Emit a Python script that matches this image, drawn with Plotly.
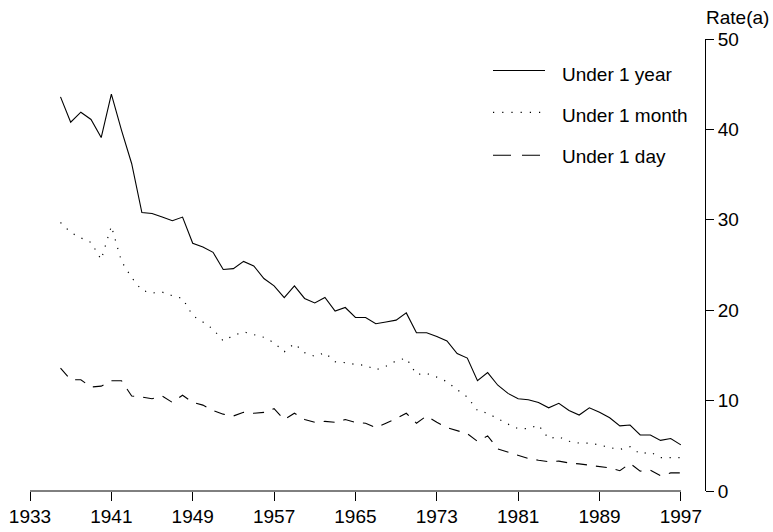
import plotly.graph_objects as go

years = list(range(1936, 1998))

under_1_year = [43.6, 40.8, 41.9, 41.1, 39.1, 43.9, 39.9, 36.2, 30.8, 30.7,
                30.3, 29.9, 30.3, 27.4, 27.0, 26.4, 24.5, 24.6, 25.4, 24.9,
                23.5, 22.7, 21.4, 22.7, 21.3, 20.8, 21.4, 19.9, 20.3, 19.2,
                19.2, 18.5, 18.7, 18.9, 19.7, 17.5, 17.5, 17.1, 16.6, 15.2,
                14.7, 12.2, 13.1, 11.7, 10.8, 10.2, 10.1, 9.8, 9.2, 9.7,
                8.9, 8.4, 9.2, 8.7, 8.1, 7.2, 7.3, 6.2, 6.2, 5.6,
                5.8, 5.1]

under_1_month = [29.7, 28.6, 28.0, 27.5, 25.6, 29.3, 25.4, 23.6, 22.2, 21.9,
                 22.0, 21.6, 21.3, 19.4, 18.7, 17.9, 16.6, 17.2, 17.6, 17.3,
                 17.0, 16.4, 15.4, 16.3, 15.3, 14.9, 15.3, 14.3, 14.2, 14.0,
                 13.9, 13.4, 13.8, 14.4, 14.7, 12.9, 13.0, 12.6, 12.1, 11.2,
                 10.4, 8.9, 8.6, 8.0, 7.4, 6.9, 6.9, 7.3, 5.8, 6.0,
                 5.5, 5.3, 5.3, 5.1, 4.8, 4.6, 4.9, 4.1, 4.3, 3.7,
                 3.7, 3.7]

under_1_day = [13.6, 12.3, 12.3, 11.5, 11.6, 12.2, 12.2, 10.5, 10.4, 10.2,
               10.5, 9.8, 10.6, 9.8, 9.5, 8.9, 8.5, 8.3, 8.7, 8.6,
               8.7, 9.1, 7.9, 8.6, 7.9, 7.6, 7.7, 7.6, 7.9, 7.6,
               7.5, 7.0, 7.5, 8.0, 8.6, 7.5, 8.3, 7.6, 7.0, 6.7,
               6.35, 5.5, 6.1, 4.65, 4.3, 3.95, 3.6, 3.4, 3.25, 3.3,
               3.1, 3.0, 2.85, 2.75, 2.55, 2.25, 3.05, 2.2, 2.3, 1.7,
               2.0, 2.0]

series_names = ["Under 1 year", "Under 1 month", "Under 1 day"]
x_ticks = [1933, 1941, 1949, 1957, 1965, 1973, 1981, 1989, 1997]
y_ticks = [0, 10, 20, 30, 40, 50]
y_title = "Rate(a)"

W, H = 773, 532
ML, MR, MT, MB = 30, 68, 38.5, 40.5
PW, PH = W - ML - MR, H - MT - MB
X_MIN = 1933
PX_PER_YEAR = 10.17
X_MAX = X_MIN + PW / PX_PER_YEAR

FONT = "Liberation Sans, Arial, Helvetica, sans-serif"
FS = 19


def px_x(px):
    return (px - ML) / PW


def px_y(py):
    return (H - MB - py) / PH


styles = [
    dict(color="black", width=1.1, dash="solid"),
    dict(color="black", width=1.2, dash="1.2px,7.6px"),
    dict(color="black", width=1.1, dash="11px,9px"),
]
legend_dash = ["solid", "1.2px,8px", "18px,11px"]

fig = go.Figure()
for name, vals, st in zip(series_names, [under_1_year, under_1_month, under_1_day], styles):
    fig.add_trace(go.Scatter(x=years, y=vals, mode="lines", name=name,
                             line=st, showlegend=False, hoverinfo="x+y"))

shapes = []
annotations = []
# x axis line from first to last tick
shapes.append(dict(type="line", xref="x", yref="paper", x0=x_ticks[0], x1=x_ticks[-1],
                   y0=0, y1=0, line=dict(color="black", width=1)))

# manual legend
leg_rows = [(70, 74.5), (112, 115), (155, 156.5)]
leg_x_end = [545, 541, 542]
for (ly, ty), name, dsh, xe in zip(leg_rows, series_names, legend_dash, leg_x_end):
    shapes.append(dict(type="line", xref="paper", yref="paper",
                       x0=px_x(493), x1=px_x(xe), y0=px_y(ly), y1=px_y(ly),
                       line=dict(color="black", width=1.1, dash=dsh)))
    annotations.append(dict(text=name, xref="paper", yref="paper",
                            x=px_x(559.5), y=px_y(ty), xanchor="left", yanchor="middle",
                            showarrow=False, font=dict(family=FONT, size=FS, color="black")))

annotations.append(dict(text=y_title, xref="paper", yref="paper",
                        x=px_x(703.5), y=px_y(17), xanchor="left", yanchor="middle",
                        showarrow=False, font=dict(family=FONT, size=FS, color="black")))

fig.update_layout(
    width=W, height=H,
    margin=dict(l=ML, r=MR, t=MT, b=MB, pad=0, autoexpand=False),
    paper_bgcolor="white", plot_bgcolor="white",
    font=dict(family=FONT, size=FS, color="black"),
    shapes=shapes, annotations=annotations,
    showlegend=False,
    xaxis=dict(range=[X_MIN, X_MAX], tickmode="array", tickvals=x_ticks,
               ticktext=[str(t) for t in x_ticks], automargin=False,
               ticks="outside", ticklen=8.5, tickwidth=1, tickcolor="black",
               showline=False, showgrid=False, zeroline=False,
               tickfont=dict(family=FONT, size=FS, color="black")),
    yaxis=dict(range=[0, 50], side="right", tickmode="array", tickvals=y_ticks,
               automargin=False,
               ticks="outside", ticklen=8, tickwidth=1, tickcolor="black",
               showline=True, linecolor="black", linewidth=1,
               showgrid=False, zeroline=False,
               tickfont=dict(family=FONT, size=FS, color="black")),
)

fig.write_html("out.html", config={"displayModeBar": False},
               post_script="document.body.style.margin='0px';document.body.style.overflow='hidden';")
